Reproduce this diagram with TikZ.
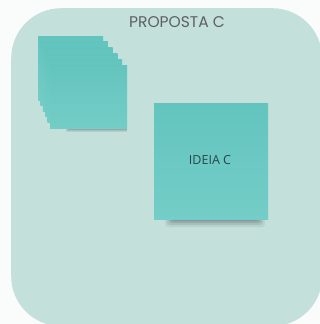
\documentclass[tikz,border=0pt]{standalone}
\usepackage{fontspec}
\newfontfamily\titlefont{Poppins}
\newfontfamily\cardfont{Open Sans}
\definecolor{bgwhite}{HTML}{FAFCFC}
\definecolor{panel}{HTML}{C3E0DA}
\definecolor{cardtop}{HTML}{63C4BE}
\definecolor{cardbot}{HTML}{74CDC7}
\definecolor{titlegray}{HTML}{5E6060}
\definecolor{cardtext}{HTML}{264848}
\definecolor{shadowgray}{HTML}{3C4444}
\tikzset{
  card/.style={inner sep=0pt, outer sep=0pt, top color=cardtop, bottom color=cardbot, draw=none},
}
\begin{document}
\begin{tikzpicture}[x=1pt,y=-1pt]
\useasboundingbox (0,0) rectangle (320,324);
\fill[bgwhite] (0,0) rectangle (320,324);
% panel
\node[fill=panel, rounded corners=50pt, minimum width=311pt, minimum height=318pt, anchor=north west, inner sep=0pt] (panel) at (11,8) {};
\node[font=\titlefont\fontsize{15.5}{18}\selectfont, text=titlegray, anchor=center] (title) at (177,22.5) {PROPOSTA C};
% stack shadow
\foreach \o/\a in {0/0.10,1/0.12,2/0.15} {
  \fill[shadowgray, opacity=\a] (66+\o,128) rectangle (127,131.5-\o);
}
% stack cards
\foreach \i in {0,...,5} {
  \pgfmathsetmacro{\xa}{38+2.4*\i}
  \pgfmathsetmacro{\ya}{36+5.8*\i}
  \pgfmathsetmacro{\w}{65+2.4*\i}
  \pgfmathsetmacro{\h}{64-0.2*\i}
  \node[card, minimum width=\w pt, minimum height=\h pt, anchor=north west] (s\i) at (\xa,\ya) {};
}
% big card shadow
\foreach \o/\a in {0/0.08,2/0.12,4/0.16,6/0.2} {
  \fill[shadowgray, opacity=\a, rounded corners=3pt] (165+\o,218) rectangle (265-\o,227-\o);
}
\node[card, minimum width=114pt, minimum height=116pt, anchor=north west] (ideia) at (154,103) {};
\node[font=\cardfont\fontsize{12.5}{15}\selectfont, text=cardtext] (ideialabel) at (210,160) {IDEIA C};
\end{tikzpicture}
\end{document}
